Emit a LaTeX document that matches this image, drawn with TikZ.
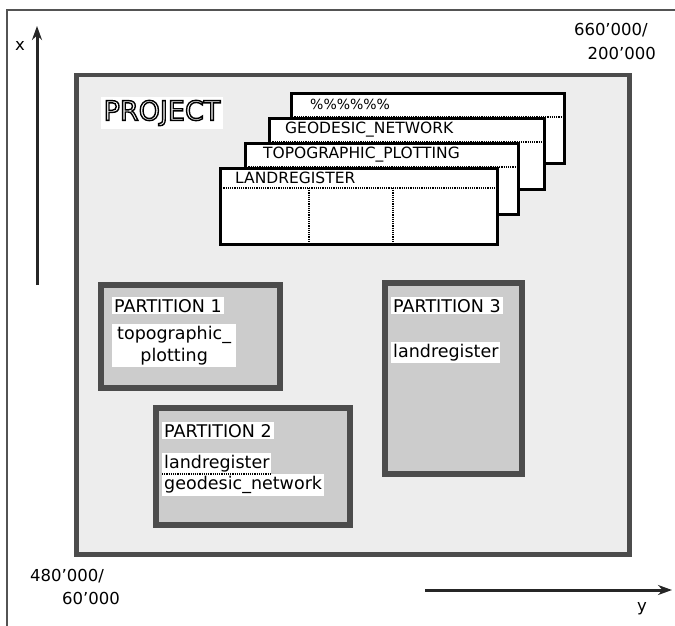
\documentclass[tikz,border=0pt]{standalone}
\usepackage{fontspec}
\setmainfont{DejaVu Sans}
\usetikzlibrary{arrows.meta,positioning}
\newcommand{\hollow}[1]{\special{pdf:code q 1 Tr 1.4 w}#1\special{pdf:code 0 Tr Q}}

\begin{document}
\begin{tikzpicture}[x=1pt, y=-1pt,
  frame/.style={draw=gray!65!black, line width=2.6pt},
  projectbox/.style={draw=gray!60!black, line width=4.5pt, fill=gray!14,
                     anchor=north west, inner sep=0pt},
  partbox/.style={draw=gray!60!black, line width=5.5pt, fill=gray!40,
                  anchor=north west, inner sep=0pt},
  card/.style={draw=black, line width=2.8pt, fill=white,
               anchor=north west, inner sep=0pt},
  cardlabel/.style={font=\fontsize{15.5}{17}\selectfont, anchor=west, inner sep=0pt},
  tag/.style={fill=white, inner sep=2pt, align=center, anchor=north west,
              font=\fontsize{17.5}{22}\selectfont},
  coord/.style={font=\fontsize{16.5}{19}\selectfont, inner sep=0pt},
  axisarrow/.style={-{Stealth[length=14pt,width=10pt]}, line width=3pt, draw=gray!30!black}
]
  \useasboundingbox (0,0) rectangle (675,626);

  % outer frame (top and left edge)
  \coordinate (fcorner) at (7,10);
  \coordinate (fright) at (675,10);
  \coordinate (fbottom) at (7,626);
  \draw[frame] (fright) -- (fcorner) -- (fbottom);

  % project area
  \node[projectbox, minimum width=553pt, minimum height=479pt] (project) at (74,73) {};
  \node[fill=white, inner sep=3pt, font=\fontsize{27}{29}\selectfont]
    (projlabel) at (162,113) {\hollow{PROJECT}};

  % stacked cards
  \node[card, minimum width=273pt, minimum height=70pt] (c1) at (290,92) {};
  \draw[densely dotted, line width=1.2pt] ([yshift=-25pt]c1.north west) -- ([yshift=-25pt]c1.north east);
  \node[cardlabel, font=\fontsize{14}{15}\selectfont] (c1t) at (310,104) {\%\%\%\%\%\%};

  \node[card, minimum width=275pt, minimum height=71pt] (c2) at (268,117) {};
  \draw[densely dotted, line width=1.2pt] ([yshift=-25pt]c2.north west) -- ([yshift=-25pt]c2.north east);
  \node[cardlabel] (c2t) at (285,130) {GEODESIC\_NETWORK};

  \node[card, minimum width=273pt, minimum height=71pt] (c3) at (244,142) {};
  \draw[densely dotted, line width=1.2pt] ([yshift=-25pt]c3.north west) -- ([yshift=-25pt]c3.north east);
  \node[cardlabel] (c3t) at (263,155) {TOPOGRAPHIC\_PLOTTING};

  \node[card, minimum width=277pt, minimum height=76pt] (c4) at (219,167) {};
  \draw[densely dotted, line width=1.2pt] ([yshift=-21pt]c4.north west) -- ([yshift=-21pt]c4.north east);
  \node[cardlabel] (c4t) at (235,178) {LANDREGISTER};
  \draw[densely dotted, line width=1.2pt] ([xshift=90pt,yshift=-21pt]c4.north west) -- ([xshift=90pt]c4.south west);
  \draw[densely dotted, line width=1.2pt] ([xshift=174pt,yshift=-21pt]c4.north west) -- ([xshift=174pt]c4.south west);

  % partitions
  \node[partbox, minimum width=179pt, minimum height=103pt] (p1) at (98,282) {};
  \node[tag] (p1t) at ([xshift=14pt,yshift=-15pt]p1.north west) {PARTITION 1};
  \node[tag, below=9pt of p1t.south west, anchor=north west, inner xsep=5pt] (p1a) {topographic\_\\plotting};

  \node[partbox, minimum width=194pt, minimum height=117pt] (p2) at (153,405) {};
  \node[tag] (p2t) at ([xshift=9pt,yshift=-17pt]p2.north west) {PARTITION 2};
  \node[tag, below=13pt of p2t.south west, anchor=north west] (p2a) {landregister};
  \node[tag, below=0pt of p2a.south west, anchor=north west] (p2b) {geodesic\_network};
  \draw[densely dotted, line width=1.2pt] (p2a.south west) -- (p2a.south east);

  \node[partbox, minimum width=137pt, minimum height=191pt] (p3) at (382,280) {};
  \node[tag] (p3t) at ([xshift=9pt,yshift=-17pt]p3.north west) {PARTITION 3};
  \node[tag, below=27pt of p3t.south west, anchor=north west] (p3a) {landregister};

  % axes
  \coordinate (xfoot) at (37,285);
  \coordinate (xhead) at (37,26);
  \draw[axisarrow] (xfoot) -- (xhead);
  \node[coord] (xlabel) at (20,46) {x};
  \coordinate (yfoot) at (425,590);
  \coordinate (yhead) at (672,590);
  \draw[axisarrow] (yfoot) -- (yhead);
  \node[coord] (ylabel) at (642,609) {y};

  % corner coordinates
  \node[coord, anchor=east] (ne1) at (648,30) {660'000/};
  \node[coord, anchor=east] (ne2) at (656,53) {200'000};
  \node[coord, anchor=west] (sw1) at (30,576) {480'000/};
  \node[coord, anchor=west] (sw2) at (62,598) {60'000};
\end{tikzpicture}
\end{document}
